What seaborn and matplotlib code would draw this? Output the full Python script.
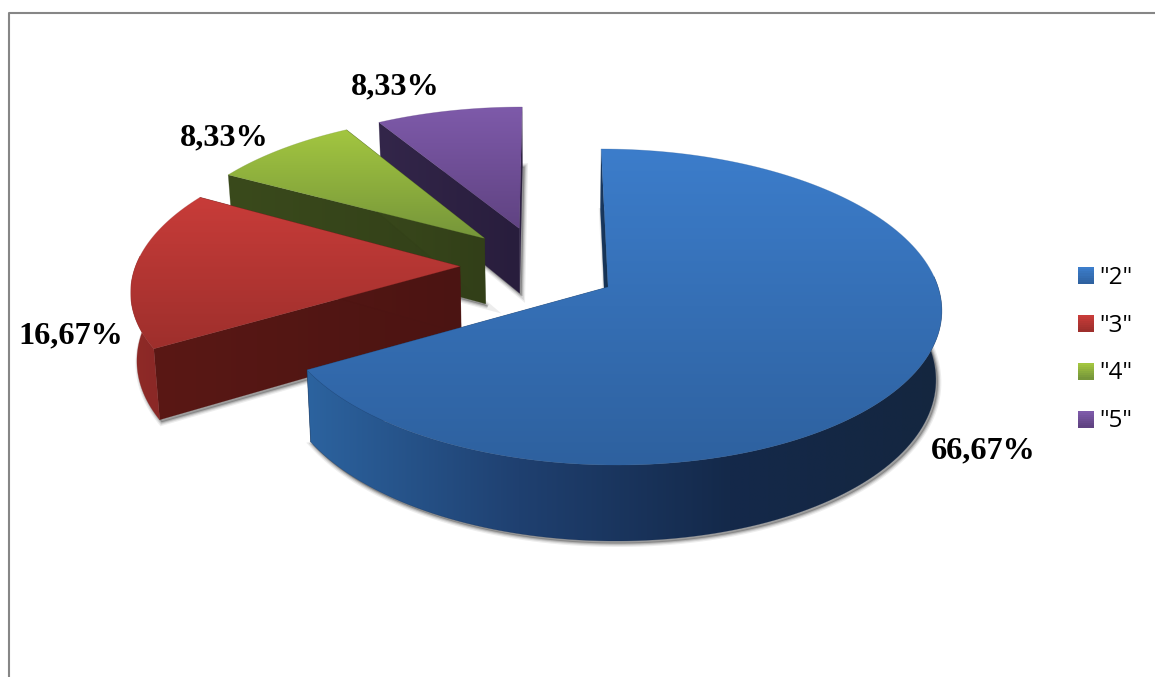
import numpy as np
import matplotlib
matplotlib.use("Agg")
import matplotlib.pyplot as plt
import seaborn as sns
from matplotlib.legend_handler import HandlerBase
from matplotlib.lines import Line2D
from matplotlib.patches import Patch, Polygon, Rectangle

# values
categories = ['"2"', '"3"', '"4"', '"5"']
shares = [66.67, 16.67, 8.33, 8.33]

# colours per slice: top face, outer rim, cut faces
top_colors = [("#3C7DCB", "#2E619F"), ("#C83C39", "#9E2F2C"),
              ("#A3C640", "#76963A"), ("#7E5AAA", "#604382")]
rim_colors = [("#2C639F", "#1F4070", "#14294A", "#14263F"), ("#8F2A27", "#8A2826"),
              ("#35431A", "#35431A"), ("#2D2142", "#2D2142")]
side_colors = [("#1A3A63", "#15304F"), ("#5A1815", "#4B1412"),
               ("#3A4A1C", "#323F18"), ("#33264A", "#281D3C")]

# projection of the tilted pie, in pixels of the figure
W, H = 1155, 677
CX, CY = 547, 287
RX, RY = 330, 155.5
PERSP = 0.1266
EXPLODE = 0.243
APEX_LIFT = 0.027
ORIGIN = (-0.0254, 0.1215)
SHRINK = 0.985

label_pos = [(983, 451), (71, 336), (224, 138), (395, 87)]

sns.set_theme(style="white")
plt.rcParams["font.family"] = ["Open Sans", "DejaVu Sans"]

fig = plt.figure(figsize=(W / 100, H / 100), dpi=100)
ax = fig.add_axes([0, 0, 1, 1])
ax.set_axis_off()


def project(u, v):
    s = 1 / (1 + PERSP * v)
    return CX + RX * u * s, CY - RY * v * s


def drop(x, y, v):
    # same point on the lower face of the slice
    return CX + (x - CX) * SHRINK, y + 68 - 8 * v


def fill_grad(pts, colors, vertical=True, zorder=1):
    pts = np.asarray(pts)
    x0, y0 = pts.min(axis=0)
    x1, y1 = pts.max(axis=0)
    ramp = np.array(sns.blend_palette(list(colors), 256))[:, :3]
    img = ramp[:, None, :] if vertical else ramp[None, :, :]
    im = ax.imshow(img, extent=[x0, x1, y1, y0], aspect="auto",
                   interpolation="bilinear", zorder=zorder)
    clip = Polygon(pts, closed=True, transform=ax.transData)
    im.set_clip_path(clip)
    # soft edge, clipped images are not antialiased
    ax.add_patch(Polygon(pts, closed=True, fc="none", ec=colors[len(colors) // 2],
                         lw=0.5, alpha=0.35, zorder=zorder))


def draw_slice(start, end, idx, zorder):
    mid = np.radians((start + end) / 2)
    au = ORIGIN[0] + EXPLODE * np.sin(mid)
    av = ORIGIN[1] + EXPLODE * np.cos(mid)
    deg = np.linspace(start, end, 160)
    ang = np.radians(deg)
    u = au + np.sin(ang)
    v = av + np.cos(ang)
    tx, ty = project(u, v)
    bx, by = drop(tx, ty, v)
    # the tip sits a little further back than the rim centre
    tip_v = av + APEX_LIFT * (np.cos(mid) + 0.5)
    apx, apy = project(au, tip_v)
    abx, aby = drop(apx, apy, tip_v)

    top = np.column_stack([np.r_[apx, tx], np.r_[apy, ty]])
    low = np.column_stack([np.r_[abx, bx], np.r_[aby, by]])
    side_a = [(apx, apy), (tx[0], ty[0]), (bx[0], by[0]), (abx, aby)]
    side_b = [(apx, apy), (tx[-1], ty[-1]), (bx[-1], by[-1]), (abx, aby)]

    # blurred drop shadow from the lower face
    for lw, alpha in [(5, 0.10), (3.2, 0.16), (1.6, 0.25)]:
        ax.add_patch(Polygon(low + [2, 2.5], closed=True, fc="#555555", ec="#555555",
                             lw=lw, alpha=alpha, zorder=zorder))
    fill_grad(side_a, side_colors[idx], vertical=False, zorder=zorder + 0.1)
    fill_grad(side_b, side_colors[idx], vertical=False, zorder=zorder + 0.1)
    # only the part of the rim facing the viewer
    front = (deg > 85) & (deg < 275)
    if front.any():
        rim = np.column_stack([np.r_[tx[front], bx[front][::-1]],
                               np.r_[ty[front], by[front][::-1]]])
        fill_grad(rim, rim_colors[idx], vertical=False, zorder=zorder + 0.2)
    fill_grad(top, top_colors[idx], vertical=True, zorder=zorder + 0.3)


edges = np.r_[0, np.cumsum(shares)] / np.sum(shares) * 360
# back to front
for i in [3, 2, 1, 0]:
    draw_slice(edges[i], edges[i + 1], i, zorder=10 - i)

for pct, (x, y) in zip(shares, label_pos):
    ax.text(x, y, f"{pct:.2f}%".replace(".", ","), ha="center", va="center",
            family="Liberation Serif", weight="bold", fontsize=23.2, color="black", zorder=20)

# chart frame, only top and left show
ax.add_line(Line2D([8.5, 8.5, W], [H, 12.5, 12.5], color="#868686", lw=1.5, zorder=21))


class GradientHandler(HandlerBase):
    def create_artists(self, legend, orig, xd, yd, width, height, fontsize, trans):
        ramp = sns.blend_palette(list(orig.stops), 8)
        out = []
        for j, c in enumerate(ramp):
            out.append(Rectangle((xd, yd + height * (7 - j) / 8), width, height / 8 + 0.3,
                                 fc=c, ec="none", transform=trans))
        return out


handles = []
for stops in top_colors:
    h = Patch()
    h.stops = stops
    handles.append(h)

ax.set_xlim(0, W)
ax.set_ylim(H, 0)
ax.legend(handles, categories, handler_map={Patch: GradientHandler()}, frameon=False,
          loc="center left", bbox_to_anchor=(1056 / W, 1 - 349.5 / H), fontsize=17.5,
          labelcolor="black", handlelength=0.66, handleheight=0.66, handletextpad=0.2,
          labelspacing=0.98)

fig.savefig("out.png", dpi=100)
